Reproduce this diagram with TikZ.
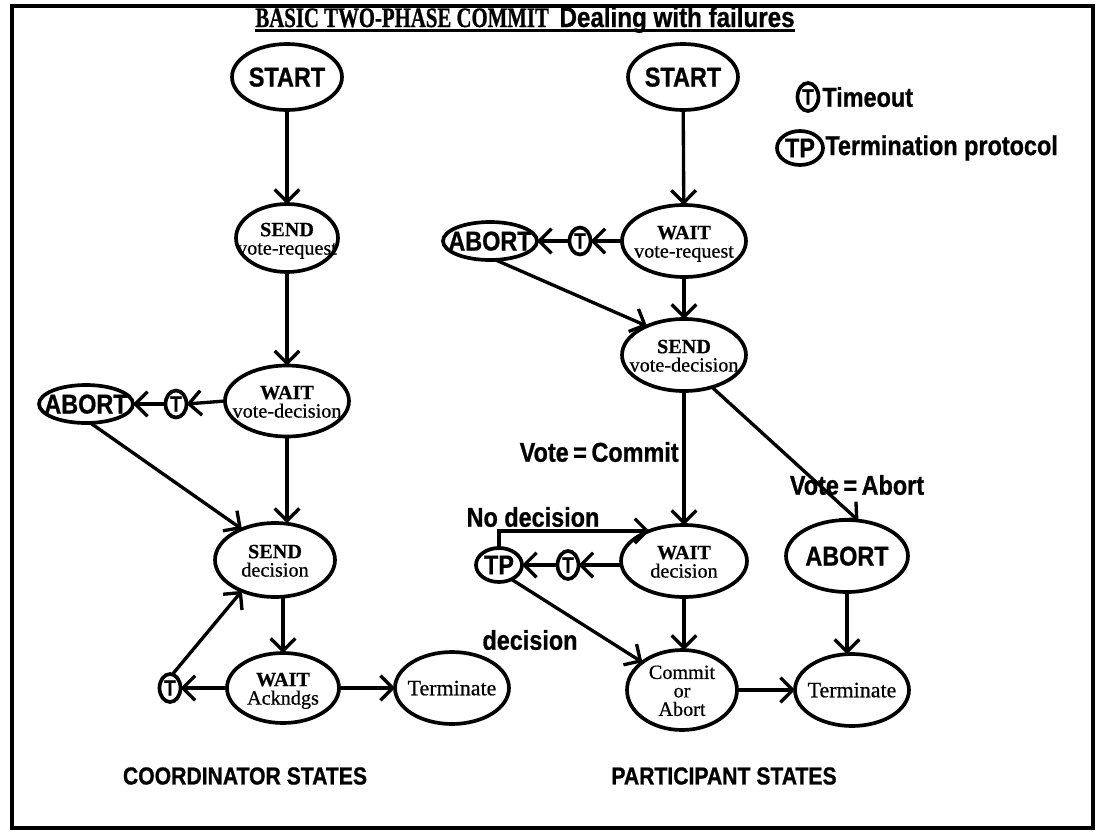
\documentclass[tikz,border=0pt]{standalone}
\usepackage{fontspec}
\setmainfont{Liberation Serif}[FakeBold=0.6]
\newfontfamily\lsans[FakeStretch=0.86,FakeBold=0.8]{Liberation Sans}
\newfontfamily\lserc[FakeStretch=0.74,FakeBold=0.8]{Liberation Serif}
\usetikzlibrary{shapes.geometric,arrows.meta}
\newcommand{\ctr}[1]{\smash{\makebox[0pt]{\raisebox{-0.5\height}{#1}}}}
\newcommand{\stt}[2]{\ctr{\fontsize{11.5}{12}\selectfont\begin{tabular}[b]{@{}c@{}}\textbf{#1}\\[-1.5pt]#2\end{tabular}}}
\newcommand{\sanslab}{\lsans\bfseries\fontsize{15.5}{17}\selectfont}
\newcommand{\sansT}{\lsans\bfseries\fontsize{12.5}{14}\selectfont}
\tikzset{
  st/.style={draw, ellipse, line width=2.1pt, inner sep=0pt, outer sep=0pt},
  arr/.style={-{Straight Barb[length=7pt,width=14pt]}, line width=1.9pt},
  lab/.style={inner sep=0pt, font=\sanslab},
}
\begin{document}
\begin{tikzpicture}[x=0.02cm, y=-0.02cm]
\useasboundingbox (0,0) rectangle (1096,832);
\draw[line width=2.2pt] (12,6) rectangle (1093,828);

% title
\node[anchor=base, inner sep=0pt] (ttl) at (525,27)
  {{\lserc\bfseries\fontsize{16}{18}\selectfont BASIC TWO-PHASE COMMIT}\hspace{6pt}{\lsans\bfseries\fontsize{16}{18}\selectfont Dealing with failures}};
\draw[line width=1.5pt] ([yshift=-2pt]ttl.base west) -- ([yshift=-2pt]ttl.base east);

% legend
\node[st, minimum width=0.42cm, minimum height=0.56cm] (lt) at (808,97) {\ctr{\sansT T}};
\node[lab, anchor=west] (ltx) at (822,97) {Timeout};
\node[st, minimum width=0.92cm, minimum height=0.68cm] (ltp) at (800,148) {\ctr{\sanslab TP}};
\node[lab, anchor=west] (ltpx) at (825,148) {Termination protocol};

% coordinator
\node[st, minimum width=2.2cm, minimum height=1.32cm] (cs) at (287,77) {\ctr{\sanslab START}};
\node[st, minimum width=2.04cm, minimum height=1.36cm] (csv) at (287,238) {\stt{SEND}{vote-request}};
\node[st, minimum width=2.48cm, minimum height=1.42cm] (cwv) at (287,401) {\stt{WAIT}{vote-decision}};
\node[st, minimum width=0.42cm, minimum height=0.54cm] (ct1) at (176,404) {\ctr{\sansT T}};
\node[st, minimum width=1.88cm, minimum height=0.76cm] (cab) at (86,404) {\ctr{\sanslab ABORT}};
\node[st, minimum width=2.4cm, minimum height=1.48cm] (csd) at (275,560) {\stt{SEND}{decision}};
\node[st, minimum width=2.24cm, minimum height=1.4cm] (cwa) at (283,688) {\stt{WAIT}{Ackndgs}};
\node[st, minimum width=0.42cm, minimum height=0.56cm] (ct2) at (170,688) {\ctr{\sansT T}};
\node[st, minimum width=2.28cm, minimum height=1.44cm] (cte) at (452,688) {\ctr{\fontsize{12.5}{14}\selectfont Terminate}};

\draw[arr] (cs) -- (csv);
\draw[arr] (csv) -- (cwv);
\draw[arr] (cwv.west) -- (ct1.east);
\draw[arr] (ct1.west) -- (cab.east);
\draw[arr] (cab.-77) -- (csd.137);
\draw[arr] (cwv.south) -- (cwv.south |- csd.north);
\draw[arr] (cwa.north |- csd.south) -- (cwa.north);
\draw[arr] (cwa.west) -- (ct2.east);
\draw[arr] (ct2.80) -- (csd.223);
\draw[arr] (cwa.east) -- (cte.west);

% participant
\node[st, minimum width=2.2cm, minimum height=1.32cm] (ps) at (683,77) {\ctr{\sanslab START}};
\node[st, minimum width=2.48cm, minimum height=1.44cm] (pwv) at (684,241) {\stt{WAIT}{vote-request}};
\node[st, minimum width=0.42cm, minimum height=0.54cm] (pt1) at (580,241) {\ctr{\sansT T}};
\node[st, minimum width=1.88cm, minimum height=0.76cm] (pab1) at (490,241) {\ctr{\sanslab ABORT}};
\node[st, minimum width=2.48cm, minimum height=1.44cm] (psv) at (684,355) {\stt{SEND}{vote-decision}};
\node[st, minimum width=2.52cm, minimum height=1.44cm] (pwd) at (684,561) {\stt{WAIT}{decision}};
\node[st, minimum width=2.44cm, minimum height=1.44cm] (pab2) at (847,556) {\ctr{\sanslab ABORT}};
\node[st, minimum width=0.42cm, minimum height=0.56cm] (pt2) at (568,565) {\ctr{\sansT T}};
\node[st, minimum width=0.92cm, minimum height=0.68cm] (ptp) at (499,565) {\ctr{\sanslab TP}};
\node[st, minimum width=2.2cm, minimum height=1.6cm] (pca) at (682,690)
  {\ctr{\fontsize{11.5}{12}\selectfont\begin{tabular}[b]{@{}c@{}}Commit\\[-1.5pt]or\\[-1.5pt]Abort\end{tabular}}};
\node[st, minimum width=2.28cm, minimum height=1.44cm] (pte) at (852,690) {\ctr{\fontsize{12.5}{14}\selectfont Terminate}};

\draw[arr] (ps) -- (pwv);
\draw[arr] (pwv.west) -- (pt1.east);
\draw[arr] (pt1.west) -- (pab1.east);
\draw[arr] (pab1.-74) -- (psv.142);
\draw[arr] (pwv) -- (psv);
\draw[arr] (psv) -- (pwd);
\draw[arr] (psv.-49) -- (pab2.72);
\draw[arr] (pt2 -| pwd.west) -- (pt2.east);
\draw[arr] (pt2.west) -- (ptp.east);
\draw[arr] (ptp.north) |- (pwd.139);
\draw[arr] (ptp.-49) -- (pca.145);
\draw[arr] (pwd.south) -- (pwd.south |- pca.north);
\draw[arr] (pab2.south) -- (pab2.south |- pte.north);
\draw[arr] (pca.east) -- (pte.west);

% labels
\node[lab, anchor=east] (lvc) at (679,452) {Vote\,=\,Commit};
\node[lab] (lva) at (857,485) {Vote\,=\,Abort};
\node[lab] (lnd) at (533,517) {No decision};
\node[lab] (ldc) at (530,640) {decision};

\node[lab, font=\lsans\bfseries\fontsize{14}{16}\selectfont] (lco) at (245,776) {COORDINATOR STATES};
\node[lab, font=\lsans\bfseries\fontsize{14}{16}\selectfont] (lpa) at (724,776) {PARTICIPANT STATES};
\end{tikzpicture}
\end{document}
